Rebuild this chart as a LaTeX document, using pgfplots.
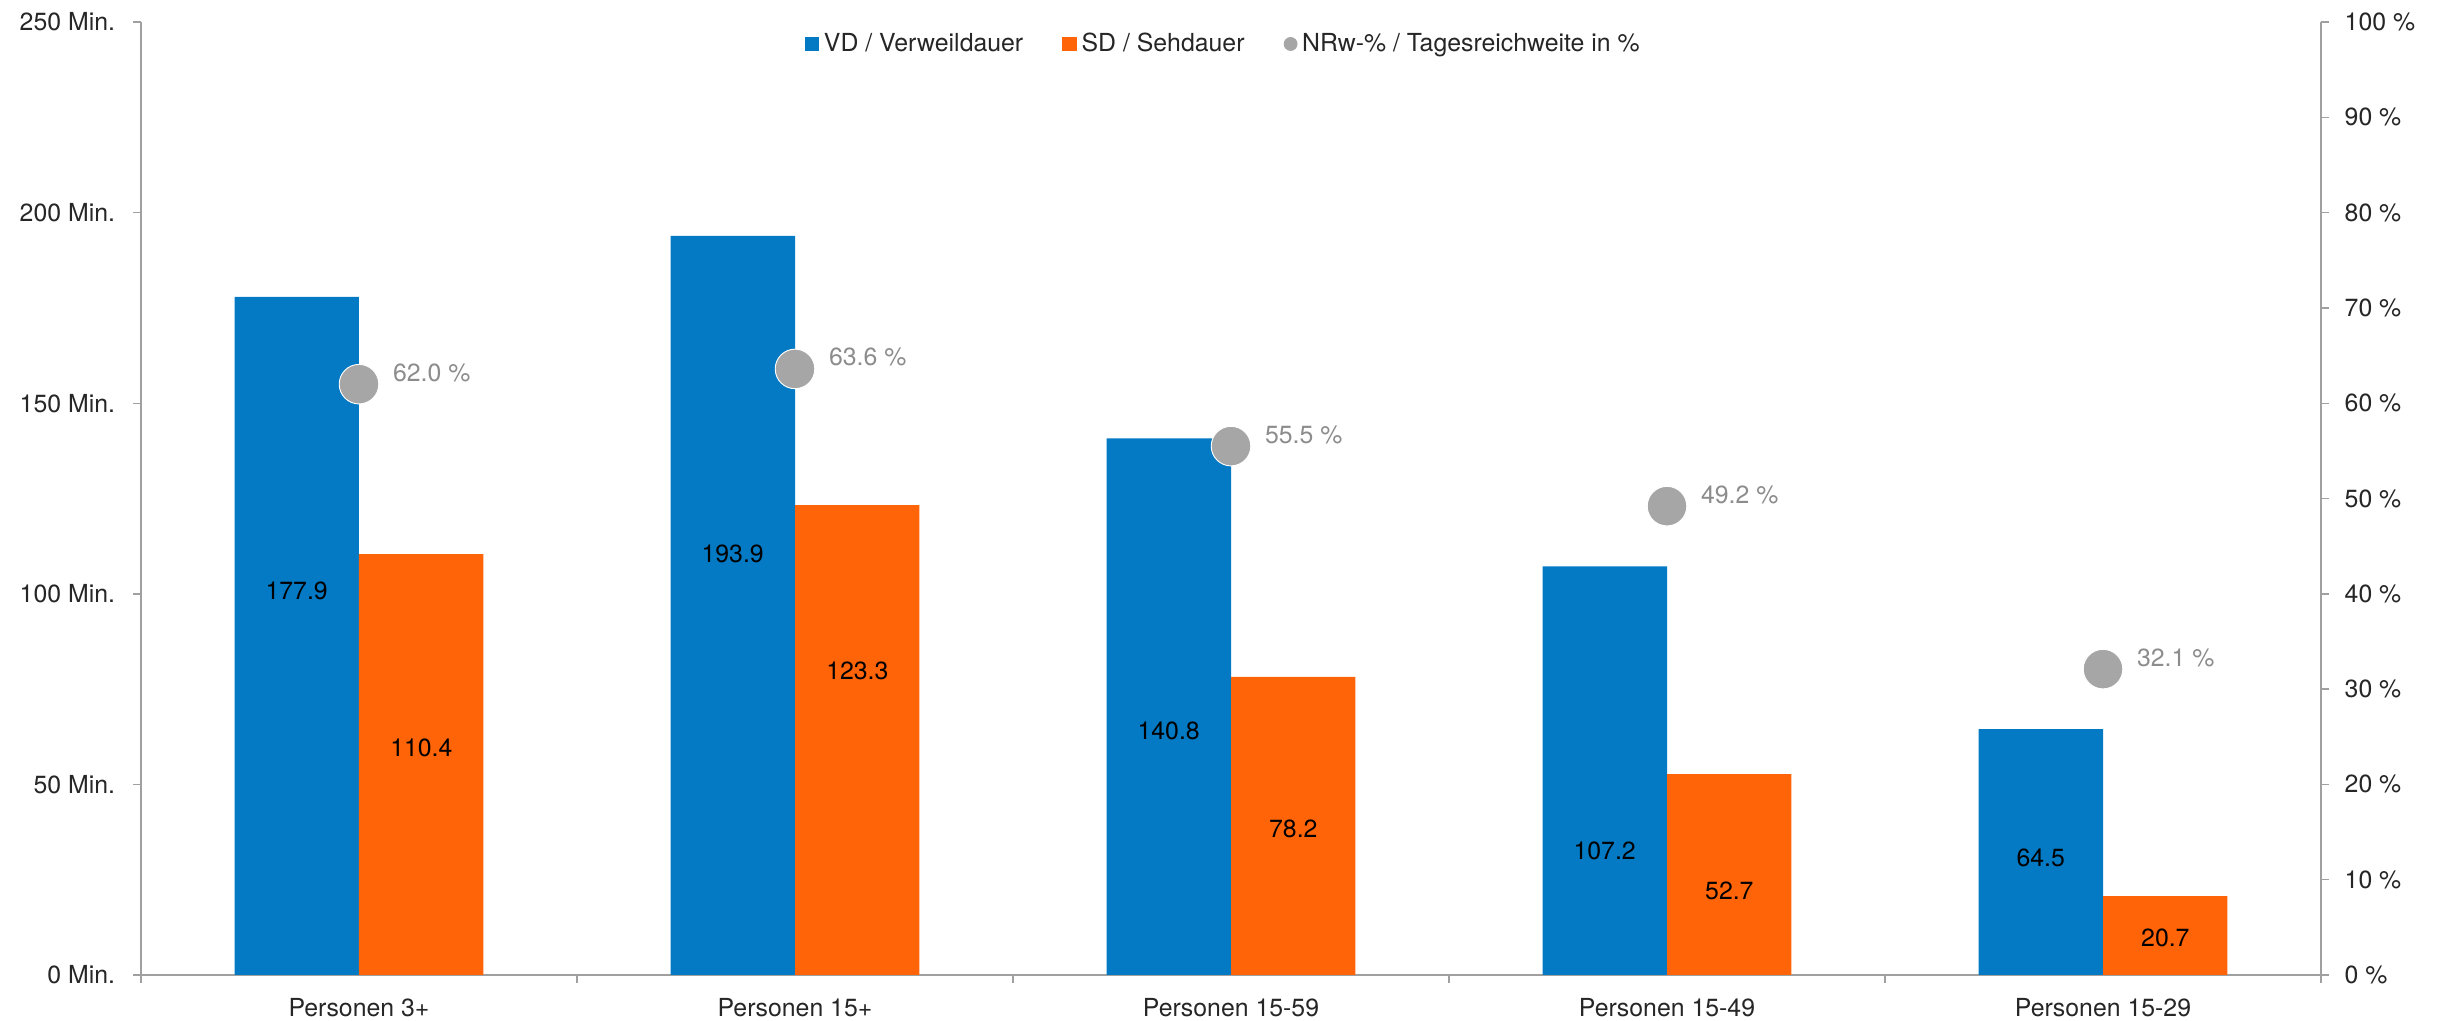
\documentclass[border=0pt]{standalone}
\usepackage{fontspec}
\setmainfont{TeX Gyre Heros}
\usepackage{pgfplots}
\pgfplotsset{compat=1.18}
\definecolor{vdblue}{HTML}{0479C4}
\definecolor{sdorange}{HTML}{FF6409}
\definecolor{nrwgray}{HTML}{A6A6A6}
\definecolor{axgray}{HTML}{A0A0A0}
\definecolor{pctgray}{HTML}{8C8C8C}

\begin{document}
\fontsize{10.8}{13}\selectfont
\begin{tikzpicture}
\useasboundingbox (-61.3pt,-19.6pt) rectangle (999.1pt,423.9pt);
% left axis: minutes
\begin{axis}[
  at={(0pt,0pt)}, anchor=south west,
  width=947.8pt, height=414.3pt, scale only axis,
  xmin=-0.5, xmax=4.5, ymin=0, ymax=250,
  axis x line*=bottom, axis y line*=left,
  axis line style={axgray, line width=0.6pt},
  tick align=outside,
  major tick length=3.5pt, minor tick length=3.5pt,
  every tick/.style={axgray, line width=0.6pt},
  xtick={0,1,2,3,4},
  xticklabels={Personen 3+, Personen 15+, Personen 15-59, Personen 15-49, Personen 15-29},
  minor xtick={-0.5,0.5,1.5,2.5,3.5,4.5},
  major x tick style={draw=none},
  xticklabel style={yshift=-3pt, text=black!85},
  ytick={0,50,100,150,200,250},
  yticklabels={0 Min., 50 Min., 100 Min., 150 Min., 200 Min., 250 Min.},
  yticklabel style={xshift=-4pt, text=black!85},
  clip=false,
]
\addplot[ybar, bar width=54.1pt, bar shift=-27.05pt, fill=vdblue, draw=none]
  coordinates {(0,177.9) (1,193.9) (2,140.8) (3,107.2) (4,64.5)};
\addplot[ybar, bar width=54.1pt, bar shift=27.05pt, fill=sdorange, draw=none]
  coordinates {(0,110.4) (1,123.3) (2,78.2) (3,52.7) (4,20.7)};
% value labels (positions as in the reference)
\addplot[draw=none, mark=none, nodes near coords, point meta=explicit symbolic,
  every node near coord/.append style={anchor=center, text=black}]
  coordinates {
  (-0.143,100.7)[177.9] (0.857,110.5)[193.9] (1.857,64.0)[140.8] (2.857,32.6)[107.2] (3.857,30.6)[64.5]
  (0.143,59.5)[110.4] (1.143,79.9)[123.3] (2.143,38.3)[78.2] (3.143,22.0)[52.7] (4.143,9.8)[20.7]
  };
\end{axis}
% right axis: daily reach in %
\begin{axis}[
  at={(0pt,0pt)}, anchor=south west,
  width=947.8pt, height=414.3pt, scale only axis,
  xmin=-0.5, xmax=4.5, ymin=0, ymax=100,
  axis x line=none, axis y line*=right,
  axis line style={axgray, line width=0.6pt},
  tick align=outside, major tick length=3.5pt,
  every tick/.style={axgray, line width=0.6pt},
  ytick={0,10,...,100},
  yticklabel={\pgfmathprintnumber{\tick}~\%},
  /pgf/number format/assume math mode=true,
  yticklabel style={xshift=3pt, text=black!85},
  clip=false,
  legend style={at={(0.497,0.977)}, anchor=center, draw=none, fill=none,
    legend columns=3, font=\fontsize{10.8}{13}\selectfont,
    nodes={inner xsep=2pt},
    /tikz/every even column/.append style={column sep=15pt},
    text=black!85},
]
\addlegendimage{legend image code/.code={\fill[vdblue] (0pt,-3pt) rectangle (6pt,3pt);}}
\addlegendentry{VD / Verweildauer}
\addlegendimage{legend image code/.code={\fill[sdorange] (0pt,-3pt) rectangle (6pt,3pt);}}
\addlegendentry{SD / Sehdauer}
\addlegendimage{legend image code/.code={\fill[nrwgray] (3pt,0pt) circle (2.8pt);}}
\addlegendentry{NRw-\% / Tagesreichweite in \%}
\addplot[forget plot, color=nrwgray, only marks, mark=*, mark size=8.6pt,
  mark options={draw=white, line width=0.4pt, fill=nrwgray},
  nodes near coords, point meta=explicit symbolic,
  every node near coord/.append style={anchor=west, xshift=11pt, yshift=5pt, text=pctgray}]
  coordinates {(0,62.0)[62.0 \%] (1,63.6)[63.6 \%] (2,55.5)[55.5 \%] (3,49.2)[49.2 \%] (4,32.1)[32.1 \%]};
\end{axis}
\end{tikzpicture}
\end{document}
